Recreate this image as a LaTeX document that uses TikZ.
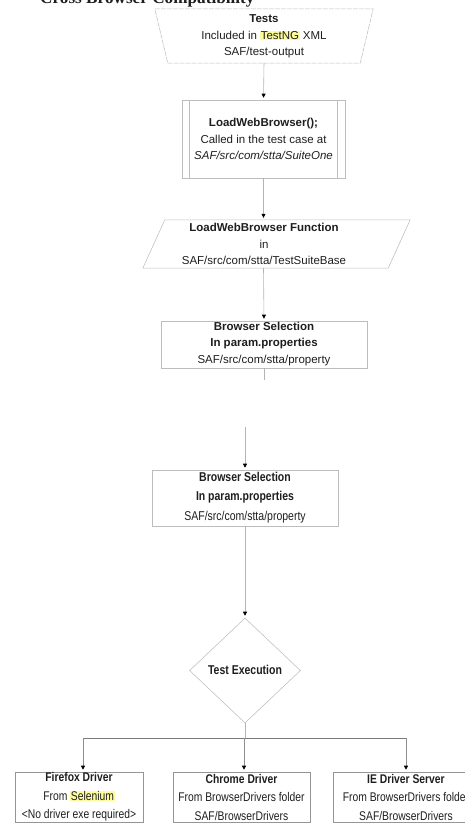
\documentclass[tikz,border=0pt]{standalone}
\usepackage{fontspec}
\setmainfont{Liberation Sans}
\newfontfamily\narrowfont[FakeStretch=0.82]{Liberation Sans}
\newfontfamily\headfont{Liberation Serif}
\usetikzlibrary{shapes.geometric,arrows.meta,calc}

\definecolor{boxgray}{HTML}{BDBDBD}
\definecolor{linegray}{HTML}{B4B4B4}
\definecolor{forkgray}{HTML}{7A7A7A}
\definecolor{ink}{HTML}{1E1E1E}
\definecolor{hl}{HTML}{FDFB9E}
\newcommand{\marked}[1]{{\setlength{\fboxsep}{0.6pt}\colorbox{hl}{#1}}}

\tikzset{
  outline/.style={draw=boxgray, line width=0.55pt, inner sep=0pt},
  frame/.style={inner sep=0pt, rectangle},
  edge/.style={draw=boxgray, line width=0.55pt, line join=miter},
  bottombox/.style={draw=forkgray!80, line width=0.6pt, inner sep=0pt,
    minimum height=50, rectangle},
  boxtext/.style={align=center, text=ink, inner sep=0pt,
    font=\fontsize{11.5pt}{16.3pt}\selectfont},
  narrowtext/.style={align=center, text=ink, inner sep=0pt,
    font=\narrowfont\fontsize{12.8pt}{19.3pt}\selectfont},
  lowtext/.style={align=center, text=ink, inner sep=0pt,
    font=\narrowfont\fontsize{12.6pt}{18.5pt}\selectfont},
  flow/.style={draw=linegray, line width=0.6pt,
    -{Triangle[length=4pt,width=4pt,color=black]}, shorten >=2pt},
  plainline/.style={draw=linegray, line width=0.6pt},
  forkline/.style={draw=forkgray, line width=0.7pt},
  dropline/.style={draw=forkgray!85, line width=0.6pt,
    -{Triangle[length=4pt,width=4pt,color=black]}, shorten >=2pt},
}

\begin{document}
\begin{tikzpicture}[x=1pt,y=-1pt]
\useasboundingbox (0,0) rectangle (465,824);

% heading, only its lower part falls on the page
\node[anchor=base west, inner sep=0pt, text=ink,
  font=\headfont\bfseries\fontsize{17.2pt}{20pt}\selectfont]
  (heading) at (40,4) {Cross Browser Compatibility};

% ---- upper chart ----
% input trapezoid: wide at the top, narrow at the bottom
\node[frame, minimum width=218, minimum height=54] (tests) at (264,36) {};
\draw[edge, dash pattern=on 5pt off 1pt] (tests.north west) -- (tests.north east)
  -- ($(tests.south east)+(-13,0)$) -- ($(tests.south west)+(13,0)$) -- cycle;
\node[boxtext] (teststext) at (264,36.5)
  {\textbf{Tests}\\Included in \marked{TestNG} XML\\SAF/test-output};

% predefined process box with inner side bars
\node[outline, rectangle, minimum width=163, minimum height=78]
  (lwb) at (263.5,139) {};
\draw[edge]
  ($(lwb.north west)+(8,0)$) -- ($(lwb.south west)+(8,0)$)
  ($(lwb.north east)+(-8,0)$) -- ($(lwb.south east)+(-8,0)$);
\node[boxtext] (lwbtext) at (263.5,139)
  {\textbf{LoadWebBrowser();}\\Called in the test case at\\\textit{SAF/src/com/stta/SuiteOne}};

% data parallelogram
\node[frame, minimum width=267, minimum height=48] (func) at (276.5,244) {};
\draw[edge] ($(func.north west)+(22,0)$) -- (func.north east)
  -- ($(func.south east)+(-22,0)$) -- (func.south west) -- cycle;
\node[boxtext] (functext) at (264,244)
  {\textbf{LoadWebBrowser Function}\\in\\SAF/src/com/stta/TestSuiteBase};

\node[outline, rectangle, minimum width=206, minimum height=47]
  (selA) at (264,344.5) {};
\node[boxtext] (selAtext) at (264,344)
  {\textbf{Browser Selection}\\\textbf{In param.properties}\\SAF/src/com/stta/property};

\coordinate (tailA) at (264,380);

\draw[flow] (264,63) -- (lwb.north);
\draw[flow] (lwb.south) -- (lwb.south |- func.north);
\draw[flow] (lwb.south |- func.south) -- (selA.north);
\draw[plainline] (selA.south) -- (tailA);

% ---- lower chart ----
\coordinate (headB) at (245,427);
\node[outline, rectangle, minimum width=186, minimum height=56]
  (selB) at (245,498) {};
\node[narrowtext] (selBtext) at (245,497.5)
  {\textbf{Browser Selection}\\\textbf{In param.properties}\\SAF/src/com/stta/property};

\node[outline, diamond, minimum width=111, minimum height=105]
  (exec) at (245,670.5) {};
\node[narrowtext] (exectext) at (245,670) {\textbf{Test Execution}};

\coordinate (fork) at (245,738);
\coordinate (forkL) at (83,738);
\coordinate (forkM) at (244,738);
\coordinate (forkR) at (406,738);

\node[bottombox, minimum width=128] (ff) at (79,797) {};
\node[lowtext] (fftext) at (79,797)
  {\textbf{Firefox Driver}\\From \marked{Selenium}\\<No driver exe required>};
\node[bottombox, minimum width=137] (ch) at (241.5,797) {};
\node[lowtext] (chtext) at (241.5,797)
  {\textbf{Chrome Driver}\\From BrowserDrivers folder\\SAF/BrowserDrivers};
\node[bottombox, minimum width=146] (ie) at (406,797) {};
\node[lowtext] (ietext) at (406,797)
  {\textbf{IE Driver Server}\\From BrowserDrivers folder\\SAF/BrowserDrivers};

\draw[flow] (headB) -- (selB.north);
\draw[flow] (selB.south) -- (exec.north);
\draw[plainline] (exec.south) -- (fork);
\draw[forkline] (forkL) -- (forkR);
\draw[dropline] (forkL) -- (forkL |- ff.north);
\draw[dropline] (forkM) -- (forkM |- ch.north);
\draw[dropline] (forkR) -- (forkR |- ie.north);
\end{tikzpicture}
\end{document}
